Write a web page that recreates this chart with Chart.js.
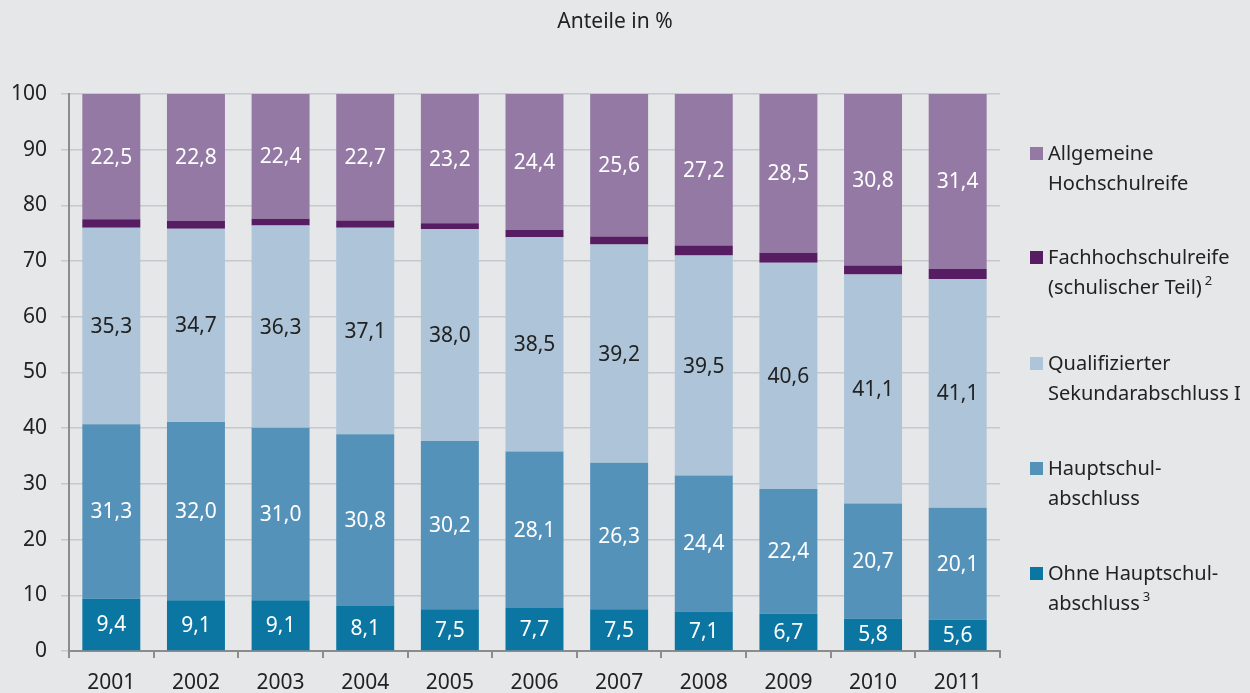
<!DOCTYPE html>
<html>
<head>
<meta charset="utf-8">
<script src="https://cdn.jsdelivr.net/npm/chart.js@4.4.1/dist/chart.umd.min.js"></script>
<style>
  html, body { margin: 0; padding: 0; background: #e6e7e9; }
  #wrap { position: relative; width: 1250px; height: 693px; font-family: "Noto Sans", sans-serif; color: #222; }
  #title { position: absolute; left: 0; width: 1230px; top: 6px; text-align: center; font-size: 21px; }
  #legend { position: absolute; left: 1030px; top: 0; }
  .item { position: absolute; left: 0; width: 230px; font-size: 20px; line-height: 30px; padding-left: 18px; }
  .item .sw { position: absolute; left: 0; top: 9px; width: 13px; height: 13px; }
  .item sup { font-size: 13px; line-height: 0; position: relative; top: -9px; vertical-align: baseline; margin-left: 3px; }
</style>
</head>
<body>
<div id="wrap">
  <div id="title">Anteile in %</div>
  <canvas id="c" width="1250" height="693"></canvas>
  <div id="legend"></div>
</div>
<script>
// --- data ---
const years = ["2001", "2002", "2003", "2004", "2005", "2006", "2007", "2008", "2009", "2010", "2011"];
const ohneHS = [9.4, 9.1, 9.1, 8.1, 7.5, 7.7, 7.5, 7.1, 6.7, 5.8, 5.6];
const hauptschul = [31.3, 32.0, 31.0, 30.8, 30.2, 28.1, 26.3, 24.4, 22.4, 20.7, 20.1];
const qualiSek = [35.3, 34.7, 36.3, 37.1, 38.0, 38.5, 39.2, 39.5, 40.6, 41.1, 41.1];
const fachhoch = [1.5, 1.4, 1.2, 1.3, 1.1, 1.3, 1.4, 1.8, 1.8, 1.6, 1.8];
const allgHR = [22.5, 22.8, 22.4, 22.7, 23.2, 24.4, 25.6, 27.2, 28.5, 30.8, 31.4];
const yTicks = [0, 10, 20, 30, 40, 50, 60, 70, 80, 90, 100];

const series = [
  { label: "Ohne Hauptschul-|abschluss", sup: "3", data: ohneHS, color: "#0b76a2", text: "#ffffff", top: 558 },
  { label: "Hauptschul-|abschluss", sup: "", data: hauptschul, color: "#5592ba", text: "#ffffff", top: 453 },
  { label: "Qualifizierter|Sekundarabschluss I", sup: "", data: qualiSek, color: "#adc4d9", text: "#222222", top: 348 },
  { label: "Fachhochschulreife|(schulischer Teil)", sup: "2", data: fachhoch, color: "#561d63", text: null, top: 242 },
  { label: "Allgemeine|Hochschulreife", sup: "", data: allgHR, color: "#9479a5", text: "#ffffff", top: 138 },
];

// legend (HTML, top entry first)
const legend = document.getElementById("legend");
series.forEach(s => {
  const d = document.createElement("div");
  d.className = "item";
  d.style.top = s.top + "px";
  const lines = s.label.split("|");
  d.innerHTML = '<span class="sw" style="background:' + s.color + '"></span>' +
    lines[0] + "<br>" + lines[1] + (s.sup ? "<sup>" + s.sup + "</sup>" : "");
  legend.appendChild(d);
});

// value labels inside the bar segments
const valueLabels = {
  id: "valueLabels",
  afterDatasetsDraw(chart) {
    const ctx = chart.ctx;
    ctx.save();
    ctx.font = "21px 'Noto Sans'";
    ctx.textAlign = "center";
    ctx.textBaseline = "middle";
    chart.data.datasets.forEach((ds, i) => {
      if (!ds.textColor) return;
      chart.getDatasetMeta(i).data.forEach((bar, j) => {
        const y = (bar.y + bar.base) / 2;
        ctx.fillStyle = ds.textColor;
        ctx.fillText(ds.data[j].toFixed(1).replace(".", ","), bar.x, y + 1);
      });
    });
    ctx.restore();
  }
};

new Chart(document.getElementById("c"), {
  type: "bar",
  data: {
    labels: years,
    datasets: series.map(s => ({
      label: s.label,
      data: s.data,
      backgroundColor: s.color,
      textColor: s.text,
      borderWidth: 0,
      categoryPercentage: 1,
      barPercentage: 0.685,
    })),
  },
  options: {
    responsive: false,
    animation: false,
    layout: { padding: { top: 94, right: 250, left: 0, bottom: 0 } },
    plugins: { legend: { display: false }, tooltip: { enabled: false } },
    scales: {
      x: {
        stacked: true,
        grid: { offset: true, drawOnChartArea: false, drawTicks: true, tickLength: 7, color: "#8c8c8c", lineWidth: 2 },
        border: { display: true, color: "#8c8c8c", width: 2 },
        ticks: { color: "#222", font: { family: "Noto Sans", size: 21 }, padding: 12 },
        afterFit(scale) { scale.height = 42; },
      },
      y: {
        stacked: true,
        min: 0,
        max: 100,
        afterBuildTicks(scale) { scale.ticks = yTicks.map(v => ({ value: v })); },
        grid: { color: "#c6c8cb", lineWidth: 1.5, tickLength: 8 },
        border: { display: true, color: "#8c8c8c", width: 2 },
        ticks: { color: "#222", font: { family: "Noto Sans", size: 21 }, padding: 14 },
        afterFit(scale) { scale.width = 69; },
      },
    },
  },
  plugins: [valueLabels],
});
</script>
</body>
</html>
